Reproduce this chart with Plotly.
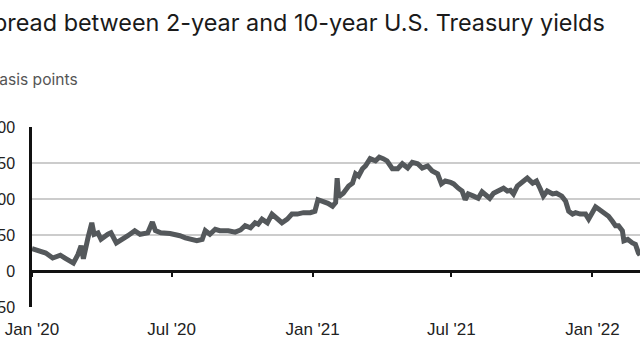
import plotly.graph_objects as go

dates = [
    "2020-01-01", "2020-01-09", "2020-01-19", "2020-01-28", "2020-02-07", "2020-02-13", "2020-02-24",
    "2020-03-01", "2020-03-05", "2020-03-08", "2020-03-11", "2020-03-14", "2020-03-19", "2020-03-22",
    "2020-03-27", "2020-03-31", "2020-04-09", "2020-04-13", "2020-04-20", "2020-04-29", "2020-05-05",
    "2020-05-14", "2020-05-21", "2020-05-31", "2020-06-06", "2020-06-10", "2020-06-17", "2020-06-29",
    "2020-07-06", "2020-07-12", "2020-07-19", "2020-07-25", "2020-08-03", "2020-08-10", "2020-08-14",
    "2020-08-20", "2020-08-27", "2020-09-02", "2020-09-13", "2020-09-22", "2020-09-29", "2020-10-05",
    "2020-10-12", "2020-10-18", "2020-10-22", "2020-10-27", "2020-11-03", "2020-11-09", "2020-11-16",
    "2020-11-22", "2020-11-29", "2020-12-05", "2020-12-12", "2020-12-20", "2020-12-29",
    "2021-01-04", "2021-01-08", "2021-01-15", "2021-01-21", "2021-01-27", "2021-01-31", "2021-02-02",
    "2021-02-04", "2021-02-10", "2021-02-17", "2021-02-22", "2021-02-26", "2021-03-02", "2021-03-07",
    "2021-03-11", "2021-03-17", "2021-03-24", "2021-03-29", "2021-04-03", "2021-04-08", "2021-04-15",
    "2021-04-22", "2021-04-28", "2021-05-05", "2021-05-11", "2021-05-18", "2021-05-24", "2021-05-31",
    "2021-06-06", "2021-06-13", "2021-06-18", "2021-06-23", "2021-06-30", "2021-07-04", "2021-07-10",
    "2021-07-15", "2021-07-19", "2021-07-23", "2021-07-30", "2021-08-05", "2021-08-10", "2021-08-14",
    "2021-08-20", "2021-08-25", "2021-08-31", "2021-09-07", "2021-09-12", "2021-09-16", "2021-09-20",
    "2021-09-25", "2021-10-02", "2021-10-08", "2021-10-15", "2021-10-20", "2021-10-25", "2021-10-29",
    "2021-11-03", "2021-11-10", "2021-11-15", "2021-11-22", "2021-11-27", "2021-12-01", "2021-12-06",
    "2021-12-10", "2021-12-16", "2021-12-23", "2021-12-27",
    "2022-01-01", "2022-01-05", "2022-01-09", "2022-01-15", "2022-01-22", "2022-01-27", "2022-01-31",
    "2022-02-04", "2022-02-09", "2022-02-11", "2022-02-16", "2022-02-22", "2022-02-26", "2022-03-02",
    "2022-03-04",
]
spread_bp = [
    31, 28, 25, 18, 22, 18, 11,
    23, 35, 17, 37, 46, 67, 51,
    53, 44, 51, 53, 39, 44, 49,
    56, 51, 53, 68, 56, 53, 52,
    51, 49, 46, 44, 42, 44, 56,
    51, 58, 56, 56, 54, 57, 63,
    60, 67, 65, 72, 67, 79, 72,
    67, 72, 79, 79, 81, 81,
    83, 99, 97, 94, 90, 95, 129,
    103, 108, 118, 122, 135, 132, 142,
    146, 156, 153, 158, 156, 153, 142,
    142, 149, 143, 151, 149, 143, 146,
    139, 135, 121, 125, 123, 121, 115,
    111, 99, 107, 104, 101, 110, 107,
    101, 108, 111, 115, 111, 112, 107,
    118, 124, 129, 122, 125, 114, 104,
    111, 107, 108, 104, 97, 83, 79,
    81, 79, 79, 72,
    81, 89, 86, 81, 76, 69, 63,
    63, 56, 42, 44, 39, 37, 25,
    22,
]

x_range = ["2020-01-01", "2022-03-04"]
x_tickvals = ["2020-01-01", "2020-07-01", "2021-01-01", "2021-07-01", "2022-01-01"]
x_ticktext = ["Jan '20", "Jul '20", "Jan '21", "Jul '21", "Jan '22"]
y_range = [-50, 200]
y_tickvals = [-50, 0, 50, 100, 150, 200]
y_ticktext = ["-50", "0", "50", "100", "150", "200"]

title_text = "Spread between 2-year and 10-year U.S. Treasury yields"
subtitle_text = "Basis points"

fig = go.Figure()
fig.add_trace(go.Scatter(
    x=dates, y=spread_bp, mode="lines",
    line=dict(color="#54585b", width=5),
    hoverinfo="skip", showlegend=False,
))

zero_frac = (0 - y_range[0]) / (y_range[1] - y_range[0])

fig.update_layout(
    width=640, height=360,
    margin=dict(l=32, r=0, t=127, b=53),
    paper_bgcolor="white", plot_bgcolor="white",
    xaxis=dict(
        anchor="free", position=zero_frac,
        range=x_range, tickvals=x_tickvals, ticktext=x_ticktext,
        showgrid=False, zeroline=False, showline=False,
        ticks="outside", ticklen=5, tickwidth=2, tickcolor="#111111",
        tickfont=dict(family="Liberation Sans, Arial", size=17, color="#222222"),
        ticklabelstandoff=38, automargin=False, ticklabeloverflow="allow",
    ),
    yaxis=dict(
        range=y_range, tickvals=y_tickvals, ticktext=y_ticktext,
        showgrid=True, gridcolor="#cccccc", gridwidth=2,
        zeroline=True, zerolinecolor="#111111", zerolinewidth=2.5,
        showline=True, linecolor="#111111", linewidth=2.5,
        ticks="", ticklabelstandoff=11, automargin=False,
        ticklabeloverflow="allow",
        tickfont=dict(family="Liberation Sans, Arial", size=16, color="#222222"),
    ),
    annotations=[
        dict(text=title_text, xref="paper", yref="paper", x=-0.0915, y=1,
             yshift=105, xanchor="left", yanchor="middle", showarrow=False,
             font=dict(family="Inter, Roboto, sans-serif", size=23.4, color="#1a1a1a")),
        dict(text=subtitle_text, xref="paper", yref="paper", x=-0.074, y=1,
             yshift=48, xanchor="left", yanchor="middle", showarrow=False,
             font=dict(family="Inter, Roboto, sans-serif", size=15.6, color="#555555")),
    ],
)

fig.write_html(
    "out.html",
    config={"displayModeBar": False},
    post_script="document.body.style.margin='0px'; document.body.style.overflow='hidden';",
)
